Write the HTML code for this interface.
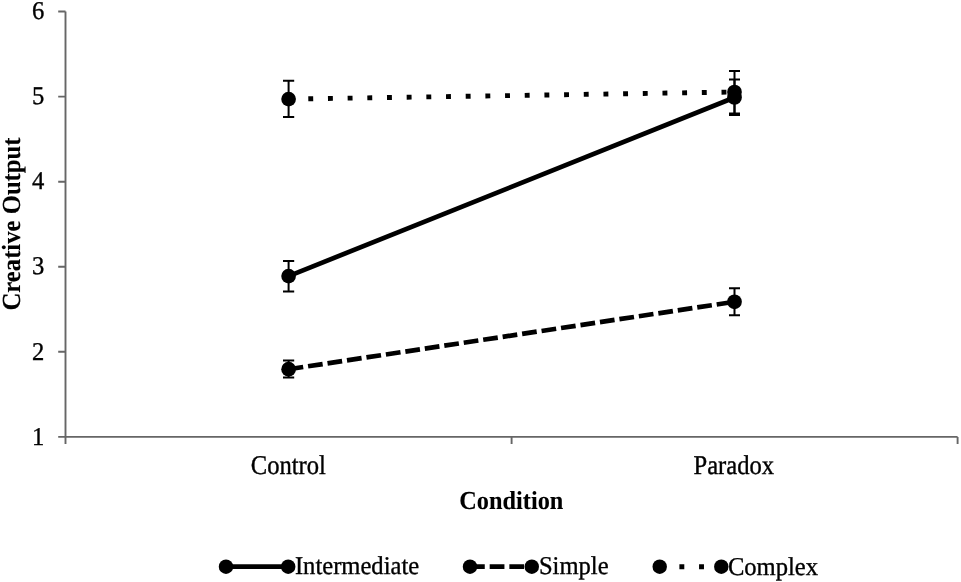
<!DOCTYPE html>
<html><head><meta charset="utf-8">
<style>
html,body{margin:0;padding:0;background:#fff;}
body{width:961px;height:582px;overflow:hidden;}
svg{display:block;will-change:transform;}
text{text-rendering:geometricPrecision;font-family:"Liberation Serif",serif;font-size:24.6px;fill:#000;stroke:#000;stroke-width:0.35px;}
.b{font-weight:bold;stroke-width:0.1px;font-size:24.3px;}
</style></head>
<body>
<svg width="961" height="582" viewBox="0 0 961 582">
<g stroke="#666" stroke-width="1.9" fill="none">
  <path d="M65.5 11.4V444"/>
  <path d="M58.2 436.9H957.6"/>
  <path d="M58.2 11.5H65.5M58.2 96.6H65.5M58.2 181.7H65.5M58.2 266.8H65.5M58.2 351.8H65.5"/>
  <path d="M511.6 436.9V444M957.6 436.9V444"/>
</g>
<g text-anchor="end">
  <text transform="translate(44.3 19.0) scale(1 1.04)">6</text>
  <text transform="translate(44.3 104.1) scale(1 1.04)">5</text>
  <text transform="translate(44.3 189.2) scale(1 1.04)">4</text>
  <text transform="translate(44.3 274.4) scale(1 1.04)">3</text>
  <text transform="translate(44.3 359.5) scale(1 1.04)">2</text>
  <text transform="translate(44.3 444.6) scale(1 1.04)">1</text>
</g>
<g text-anchor="middle">
  <text transform="translate(288.3 473.5) scale(1 1.1)">Control</text>
  <text transform="translate(733.8 473.5) scale(1 1.1)">Paradox</text>
  <text class="b" transform="translate(511.3 509.25) scale(1 1.07)">Condition</text>
  <text class="b" style="font-size:24.7px" transform="translate(19.7 224) rotate(-90) scale(1 1.06)">Creative Output</text>
</g>
<!-- series lines -->
<g fill="none" stroke="#000">
  <path d="M288.6 276.1L734.5 97.5" stroke-width="4.7"/>
  <path d="M288.6 369.2L734.5 301.8" stroke-width="4.7" stroke-dasharray="14.76 4.92"/>
  <path d="M288.6 99.1L734.5 92" stroke-width="4.9" stroke-dasharray="4.92 14.76"/>
</g>
<!-- error bars -->
<g fill="none" stroke="#000" stroke-width="2">
  <path d="M288.6 261V291.6M283 261H294.2M283 291.6H294.2"/>
  <path d="M734.5 79.5V115M729 79.5H740M729 115H740"/>
  <path d="M288.6 360.6V377.4M283 360.6H294.2M283 377.4H294.2"/>
  <path d="M734.5 288.2V315.2M729 288.2H740M729 315.2H740"/>
  <path d="M288.6 80.8V116.9M283 80.8H294.2M283 116.9H294.2"/>
  <path d="M734.5 71.1V113.5M729 71.1H740M729 113.5H740"/>
</g>
<g fill="#000">
  <circle cx="288.6" cy="276.1" r="7.35"/>
  <circle cx="734.5" cy="97.5" r="7.35"/>
  <circle cx="288.6" cy="369.2" r="7.35"/>
  <circle cx="734.5" cy="301.8" r="7.35"/>
  <circle cx="288.6" cy="99.1" r="7.35"/>
  <circle cx="734.5" cy="92" r="7.35"/>
</g>
<!-- legend -->
<g fill="none" stroke="#000">
  <path d="M226 566.7H288.2" stroke-width="4.7"/>
  <path d="M470 566.7H531.8" stroke-width="4.7" stroke-dasharray="14.76 4.92"/>
  <path d="M659.7 566.7H721.3" stroke-width="4.9" stroke-dasharray="4.92 14.76"/>
</g>
<g fill="#000">
  <circle cx="226" cy="566.7" r="7.2"/>
  <circle cx="288.2" cy="566.7" r="7.2"/>
  <circle cx="470" cy="566.7" r="7.2"/>
  <circle cx="531.8" cy="566.7" r="7.2"/>
  <circle cx="659.7" cy="566.7" r="7.2"/>
  <circle cx="721.3" cy="566.7" r="7.2"/>
</g>
<text transform="translate(294.9 574.4) scale(1 1.04)">Intermediate</text>
<text transform="translate(538.9 574.4) scale(1 1.04)">Simple</text>
<text transform="translate(727.9 574.5) scale(1 1.04)">Complex</text>
</svg>
</body></html>
